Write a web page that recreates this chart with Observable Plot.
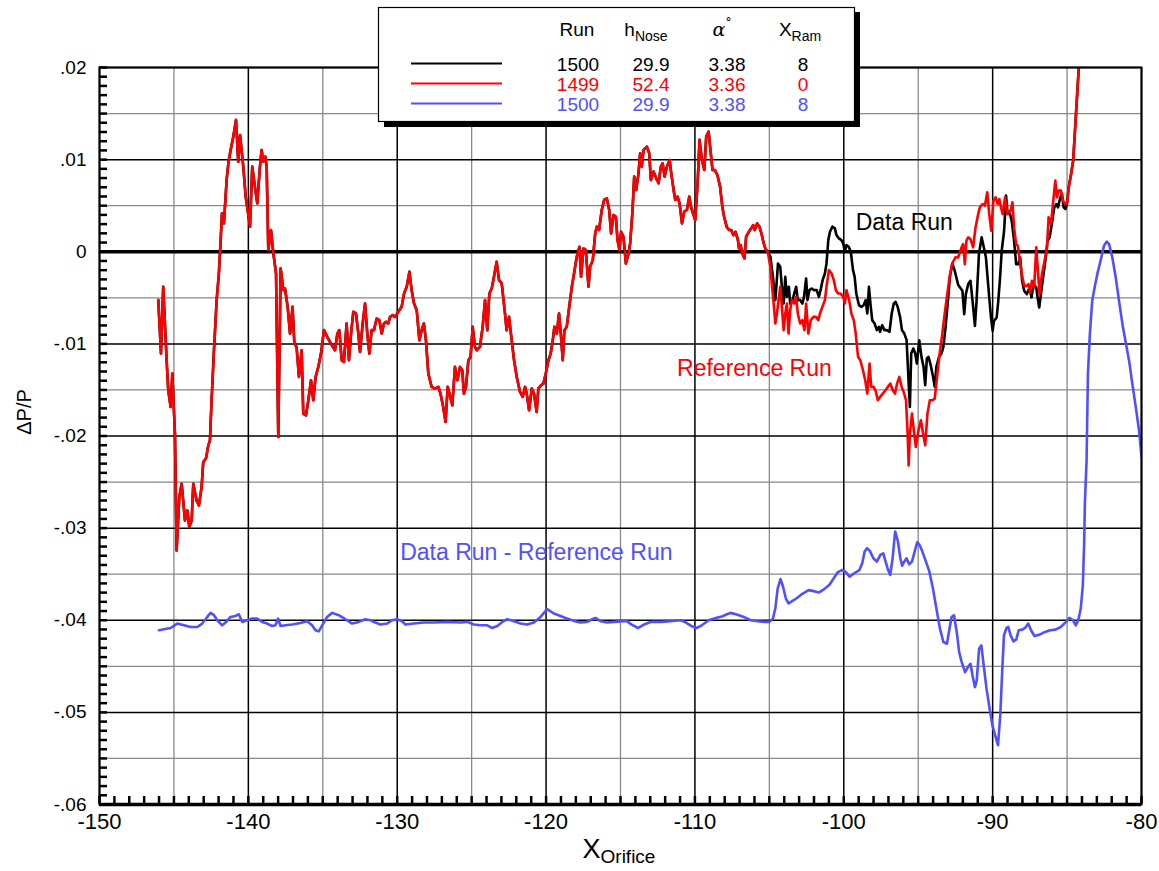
<!DOCTYPE html>
<html><head><meta charset="utf-8">
<script src="https://cdn.jsdelivr.net/npm/d3@7"></script>
<script src="https://cdn.jsdelivr.net/npm/@observablehq/plot@0.6"></script>
<style>
body{margin:0;background:#fff;}
#wrap{position:relative;width:1159px;height:871px;overflow:hidden;font-family:"Liberation Sans",Arial,sans-serif;}
#wrap svg{position:absolute;left:0;top:0;}
</style></head><body><div id="wrap"></div>
<script>
// ---- Data (x = X_Orifice, y = ΔP/P) ----
// Part where Data Run and Reference Run coincide (x < -105)
const commonStartX = [-146.05,-145.87,-145.72,-145.49,-145.38,-145.22,-145.11,-144.93,-144.82,-144.64,-144.48,-144.26,-144.10,-143.97,-143.81,-143.70,-143.48,-143.32,-143.14,-143.03,-142.85,-142.69,-142.58,-142.47,-142.31,-142.13,-141.98,-141.86,-141.77,-141.64,-141.46,-141.33,-141.19,-141.01,-140.83,-140.68,-140.56,-140.34,-140.18,-140.05,-139.89,-139.74,-139.56,-139.40,-139.22,-139.11,-139.00,-138.86,-138.77,-138.66,-138.48,-138.32,-138.14,-137.99,-137.83,-137.65,-137.54,-137.36,-137.20,-137.03,-136.91,-136.76,-136.60,-136.42,-136.31,-136.13,-135.97,-135.79,-135.64,-135.48,-135.30,-135.12,-134.92,-134.70,-134.40,-134.18,-134.02,-133.89,-133.73,-133.58,-133.40,-133.24,-133.10,-132.95,-132.77,-132.61,-132.50,-132.32,-132.16,-132.01,-131.87,-131.72,-131.56,-131.38,-131.20,-131.04,-130.89,-130.75,-130.60,-130.48,-130.30,-130.15,-129.99,-129.86,-129.70,-129.54,-129.36,-129.18,-129.03,-128.87,-128.69,-128.51,
-128.36,-128.21,-128.07,-127.91,-127.69,-127.47,-127.24,-127.09,-126.91,-126.75,-126.61,-126.46,-126.30,-126.12,-125.96,-125.78,-125.63,-125.52,-125.38,-125.22,-125.07,-124.93,-124.78,-124.66,-124.44,-124.26,-124.10,-123.95,-123.81,-123.65,-123.50,-123.32,-123.16,-122.98,-122.76,-122.65,-122.49,-122.31,-122.15,-121.97,-121.75,-121.57,-121.41,-121.30,-121.14,-120.96,-120.81,-120.63,-120.52,-120.34,-120.18,-120.02,-119.84,-119.69,-119.55,-119.44,-119.28,-119.13,-119.01,-118.88,-118.77,-118.61,-118.50,-118.27,-118.12,-117.94,-117.76,-117.65,-117.49,-117.33,-117.15,-117.04,-116.86,-116.70,-116.59,-116.44,-116.26,-116.10,-115.92,-115.76,-115.63,-115.47,-115.31,-115.20,-115.07,-114.96,-114.80,-114.64,-114.46,-114.35,-114.19,-114.08,-113.95,-113.79,-113.68,-113.57,-113.45,-113.23,-113.07,-112.96,-112.78,-112.60,-112.44,-112.29,-112.17,-112.04,-111.88,-111.70,-111.59,-111.43,-111.32,-111.17,-111.03,-110.87,-110.72,-110.54,-110.38,-110.27,-110.13,-109.98,-109.82,-109.69,-109.53,-109.37,-109.24,-109.08,
-108.98,-108.82,-108.67,-108.49,-108.31,-108.16,-108.04,-107.87,-107.71,-107.56,-107.42,-107.27,-107.11,-107.04,-106.93,-106.82,-106.67,-106.56,-106.38,-106.22,-106.09,-105.98,-105.82,-105.67,-105.53,-105.38,-105.27,-105.11];
const commonStartY = [-0.00525,-0.01105,-0.0038,-0.01178,-0.01504,-0.01685,-0.01322,-0.01975,-0.03243,-0.02663,-0.02518,-0.02917,-0.02808,-0.02989,-0.02917,-0.02518,-0.027,-0.02754,-0.02554,-0.02283,-0.02246,-0.02101,-0.02047,-0.01612,-0.01069,-0.00525,-0.00236,0.00127,0.00417,0.00308,0.00779,0.00978,0.01105,0.0125,0.01431,0.00978,0.01268,0.00924,0.00598,0.00453,0.00272,0.00924,0.00707,0.00525,0.00924,0.01105,0.00978,0.01033,0.00924,0.00018,0.00236,-0.00018,-0.00236,-0.02011,-0.00181,-0.00417,-0.00399,-0.00598,-0.00888,-0.00598,-0.00996,-0.01033,-0.01359,-0.01069,-0.01757,-0.01775,-0.01612,-0.01395,-0.01612,-0.01359,-0.0125,-0.01105,-0.00851,-0.00924,-0.01014,-0.01069,-0.00888,-0.00851,-0.01178,-0.01196,-0.00779,-0.01178,-0.00888,-0.00652,-0.0067,-0.00888,-0.01087,-0.00779,-0.00562,-0.00888,-0.01105,-0.00851,-0.00851,-0.00725,-0.00743,-0.00888,-0.00779,-0.00761,-0.00779,-0.00707,-0.00688,-0.00707,-0.0067,-0.00634,-0.00598,-0.00453,-0.0038,-0.00217,-0.00417,-0.00562,-0.00634,-0.0096,
-0.00851,-0.00779,-0.0096,-0.01322,-0.01467,-0.01486,-0.01467,-0.0154,-0.01685,-0.01848,-0.01467,-0.01558,-0.01667,-0.0125,-0.01395,-0.0125,-0.01286,-0.0154,-0.01467,-0.01178,-0.01141,-0.00815,-0.01033,-0.01069,-0.01033,-0.00815,-0.00525,-0.00851,-0.00453,-0.00399,-0.00272,-0.00109,-0.00308,-0.00344,-0.0067,-0.00851,-0.00707,-0.0096,-0.01178,-0.01359,-0.01522,-0.01576,-0.01467,-0.0154,-0.01721,-0.01486,-0.0154,-0.01739,-0.01486,-0.01449,-0.01431,-0.01322,-0.01178,-0.01105,-0.0096,-0.00815,-0.00888,-0.0067,-0.00888,-0.01178,-0.00851,-0.00815,-0.0067,-0.0038,-0.00236,-0.00054,0.00054,-0.00272,0.00036,0.00018,-0.0038,-0.00163,-0.00091,0.00199,0.00272,0.00236,0.00453,0.00562,0.0058,0.00453,0.00199,0.00399,0.0038,0.00127,0.00018,0.00217,0.00163,-0.00127,-0.00018,0.00091,0.00453,0.00815,0.0067,0.00851,0.01069,0.00924,0.01105,0.01141,0.01069,0.00779,0.0087,0.00797,0.00743,0.00924,0.0096,0.00815,0.00924,0.00996,0.00851,0.0067,0.00562,0.00598,0.00525,0.00308,0.00435,0.00453,0.00598,0.00489,0.00417,0.00344,0.00743,0.01214,0.00996,0.00888,0.0125,0.01304,
0.01141,0.00888,0.00888,0.00833,0.00707,0.00489,0.0038,0.00272,0.00236,0.00236,0.00181,0.00217,0.00127,0.00036,0.00072,-0.00018,-0.00072,0.00163,0.00217,0.00254,0.0029,0.00236,0.00308,0.00272,0.00199,0.00091,0.00036,0.0];

// Part where the Data Run (black) differs
const dataMidX = [-104.93,-104.76,-104.60,-104.53,-104.42,-104.27,-104.16,-104.04,-103.93,-103.82,-103.69,-103.60,-103.44,-103.33,-103.20,-103.09,-102.93,-102.78,-102.67,-102.53,-102.44,-102.31,-102.16,-102.0,-101.82,-101.67,-101.56,-101.42,-101.27,-101.16,-101.04,-100.93,-100.76,-100.60,-100.49,-100.33,-100.16,-100.04,-99.93,-99.82,-99.67,-99.53,-99.38,-99.27,-99.16,-98.98,-98.82,-98.67,-98.53,-98.42,-98.31,-98.20,-98.09,-97.93,-97.78,-97.64,-97.56,-97.42,-97.27,-97.11,-96.93,-96.78,-96.64,-96.53,-96.38,-96.22,-96.09,-95.93,-95.78,-95.64,-95.56,-95.47,-95.33,-95.20,-95.09,-94.93,-94.78,-94.64,-94.53,-94.42,-94.31,-94.16,-94.0,-93.89,-93.78,-93.60,-93.44,-93.31,-93.16,-93.0,-92.87,-92.71,-92.56,-92.42,-92.31,-92.03,-91.91,-91.80,-91.64,-91.49,-91.35,-91.19,-91.08,-90.92,-90.74,-90.59,-90.45,-90.36,-90.23,-90.11,-90.0,-89.91,-89.73,-89.62,-89.50,-89.39,-89.23,-89.10,-88.99,-88.83,-88.72,-88.56,-88.42,-88.27,-88.15,-88.02,-87.88,-87.70,-87.52,-87.39,-87.25,-87.07,-86.98,-86.87,-86.73,-86.58,-86.46,-86.31,-86.17,-86.01,-85.86,-85.72,-85.61,-85.45,-85.34,-85.23,-85.11];
const dataMidY = [-0.00054,-0.00272,-0.00525,-0.0038,-0.00127,-0.00163,-0.0038,-0.00562,-0.00272,-0.00489,-0.0038,-0.00562,-0.00525,-0.00453,-0.0038,-0.00525,-0.00525,-0.00562,-0.00489,-0.0029,-0.00525,-0.00417,-0.00399,-0.00417,-0.00417,-0.00489,-0.00417,-0.00308,-0.00236,-0.00127,0.00127,0.00217,0.00272,0.00254,0.00181,0.00145,0.00127,0.00091,0.0,0.00072,0.00054,0.0,-0.00199,-0.00272,-0.00453,-0.0058,-0.00598,-0.0058,-0.00525,-0.0067,-0.0038,-0.0058,-0.00743,-0.00779,-0.00851,-0.00815,-0.0087,-0.00797,-0.00851,-0.00851,-0.0087,-0.0067,-0.00562,-0.00543,-0.00598,-0.00707,-0.00851,-0.00888,-0.0096,-0.01431,-0.01685,-0.01105,-0.01051,-0.01105,-0.01214,-0.0096,-0.01141,-0.0125,-0.01449,-0.01159,-0.01141,-0.01232,-0.01359,-0.01467,-0.0125,-0.01141,-0.01105,-0.01033,-0.00815,-0.00525,-0.00272,-0.00127,-0.00199,-0.0029,-0.00362,-0.00424,-0.00678,-0.0046,-0.00351,-0.00315,-0.00533,-0.00805,-0.00533,-0.00025,0.00156,0.00047,-0.00062,-0.00243,-0.00496,-0.00714,-0.00859,-0.0075,-0.00714,-0.00533,-0.00279,0.00011,0.00228,0.00609,0.00409,0.00409,0.00337,0.0012,-0.00134,-0.00134,-0.00062,-0.00315,-0.00424,-0.0046,-0.00388,-0.00496,-0.00351,-0.00388,-0.00496,-0.00605,-0.00424,-0.00243,-0.00098,0.0012,0.00156,0.00319,0.00482,0.00518,0.00482,0.00591,0.00627,0.00482,0.00464];

// Part where the Reference Run (red) differs
const refMidX = [-104.93,-104.82,-104.71,-104.60,-104.49,-104.38,-104.27,-104.16,-104.04,-103.93,-103.82,-103.71,-103.60,-103.49,-103.33,-103.20,-103.09,-102.93,-102.78,-102.64,-102.53,-102.38,-102.22,-102.04,-101.87,-101.71,-101.60,-101.44,-101.27,-101.16,-101.0,-100.82,-100.67,-100.53,-100.38,-100.22,-100.04,-99.93,-99.82,-99.64,-99.49,-99.33,-99.20,-99.04,-98.89,-98.71,-98.56,-98.42,-98.27,-98.16,-98.0,-97.87,-97.71,-97.56,-97.38,-97.20,-97.04,-96.87,-96.71,-96.56,-96.42,-96.27,-96.11,-95.98,-95.82,-95.71,-95.64,-95.56,-95.42,-95.27,-95.16,-94.98,-94.82,-94.67,-94.53,-94.38,-94.22,-94.04,-93.89,-93.71,-93.56,-93.38,-93.22,-93.04,-92.89,-92.71,-92.50,-92.32,-92.09,-91.98,-91.87,-91.76,-91.64,-91.49,-91.31,-91.15,-90.97,-90.86,-90.68,-90.52,-90.36,-90.23,-90.09,-89.95,-89.80,-89.66,-89.55,-89.44,-89.32,-89.17,-89.01,-88.87,-88.76,-88.67,-88.56,-88.42,-88.31,-88.20,-88.04,-87.88,-87.70,-87.59,-87.48,-87.36,-87.21,-87.07,-86.96,-86.85,-86.69,-86.51,-86.35,-86.24,-86.08,-85.95,-85.79,-85.68,-85.56,-85.41,-85.27,-85.11];
const refMidY = [-0.00163,-0.0038,-0.00562,-0.00779,-0.0067,-0.00525,-0.0038,-0.00598,-0.00851,-0.0067,-0.00562,-0.00888,-0.00634,-0.00525,-0.00562,-0.00489,-0.0067,-0.00779,-0.00743,-0.00851,-0.00562,-0.00888,-0.00743,-0.00707,-0.00707,-0.00743,-0.0067,-0.00598,-0.00525,-0.0038,-0.00199,-0.00236,-0.00308,-0.00417,-0.00453,-0.00453,-0.00489,-0.00562,-0.00417,-0.00525,-0.0067,-0.00743,-0.00888,-0.01141,-0.01178,-0.01286,-0.01395,-0.0154,-0.01214,-0.01467,-0.01467,-0.01504,-0.01612,-0.01576,-0.0154,-0.01504,-0.01467,-0.01431,-0.01504,-0.0154,-0.01431,-0.01359,-0.01467,-0.01522,-0.01612,-0.01975,-0.02319,-0.01975,-0.01757,-0.01975,-0.0212,-0.01938,-0.0183,-0.01975,-0.02101,-0.01757,-0.01612,-0.01612,-0.01594,-0.01322,-0.01105,-0.00888,-0.0067,-0.00453,-0.00272,-0.00127,-0.0006,-0.00062,0.00047,0.00083,-0.00134,0.0012,0.00156,0.00138,0.00047,0.00264,0.00409,0.00482,0.00518,0.005,0.00645,0.00409,0.00228,0.00554,0.00591,0.00518,0.00572,0.00482,0.00409,0.00591,0.00409,0.00428,0.00464,0.00536,0.00264,0.00083,0.00065,-0.00062,-0.00243,-0.0037,-0.0037,-0.00351,-0.00442,-0.00315,-0.00388,0.00047,-0.00207,-0.0046,-0.00243,-0.00098,0.00047,0.00373,0.00301,0.00518,0.00772,0.00591,0.00663,0.00663,0.00554,0.00518];

// Common end (x > -85), runs off the top of the chart
const commonEndX = [-85.0,-84.89,-84.73,-84.59,-84.44,-84.32,-84.21,-83.9];
const commonEndY = [0.00527,0.00699,0.00844,0.00989,0.01388,0.01714,0.02004,0.028];

// Data Run - Reference Run (plotted with -0.04 offset)
const diffX = [-146.01,-145.67,-145.22,-144.78,-144.33,-143.88,-143.43,-143.10,-142.76,-142.54,-142.31,-142.09,-141.76,-141.53,-141.20,-140.86,-140.64,-140.41,-140.08,-139.74,-139.41,-139.07,-138.74,-138.40,-138.18,-138.00,-137.84,-137.51,-137.06,-136.50,-136.05,-135.72,-135.49,-135.27,-135.04,-134.71,-134.37,-133.93,-133.48,-133.03,-132.58,-132.14,-131.80,-131.47,-131.13,-130.68,-130.35,-130.01,-129.67,-129.45,-128.89,-128.21,-127.54,-126.64,-125.75,-125.30,-124.85,-124.40,-123.95,-123.62,-123.28,-122.94,-122.61,-122.16,-121.71,-121.27,-120.82,-120.37,-119.93,-119.48,-119.03,-118.58,-118.13,-117.69,-117.24,-116.90,-116.68,-116.34,-115.89,-115.42,-114.60,-114.25,-113.82,-113.42,-112.95,-112.25,-111.66,-110.95,-110.60,-110.25,-109.89,-109.54,-109.07,-108.60,-108.13,-107.89,-107.61,-107.19,-106.72,-106.25,-105.78,-105.31,-105.0,-104.76,-104.60,-104.44,-104.25,-104.08,-103.89,-103.71,-103.47,-103.19,-102.84,-102.36,-102.01,-101.66,-101.31,-100.95,-100.65,-100.41,-100.13,-99.89,-99.61,-99.31,-98.95,-98.76,-98.60,-98.44,-98.25,-98.01,-97.78,-97.54,-97.35,-97.19,-97.02,-96.88,-96.72,-96.55,-96.36,-96.20,-96.08,-95.94,-95.78,-95.61,-95.42,-95.24,-95.07,-94.91,-94.72,-94.48,-94.25,-94.01,-93.78,-93.54,-93.31,-93.07,-92.88,-92.76,-92.60,-92.41,-92.25,-92.08,-91.85,-91.66,-91.49,-91.35,-91.19,-91.07,-90.91,-90.76,-90.60,-90.41,-90.20,-90.01,-89.82,-89.64,-89.49,-89.35,-89.24,-89.07,-88.95,-88.79,-88.60,-88.41,-88.25,-88.01,-87.82,-87.61,-87.42,-87.19,-86.84,-86.48,-86.13,-85.78,-85.42,-85.07,-84.84,-84.60,-84.41,-84.25,-84.08,-83.94,-83.85,-83.80,-83.69,-83.60,-83.47,-83.31,-83.15,-82.97,-82.75,-82.52,-82.34,-82.18,-81.96,-81.73,-81.51,-81.28,-81.06,-80.83,-80.61,-80.38,-80.16,-80.0];
const diffY = [-0.04109,-0.04098,-0.04084,-0.04036,-0.04055,-0.04073,-0.04073,-0.04036,-0.03964,-0.0392,-0.03945,-0.04,-0.04055,-0.04025,-0.03964,-0.03953,-0.03935,-0.04018,-0.04,-0.03982,-0.03982,-0.04018,-0.04036,-0.04062,-0.04055,-0.03982,-0.04062,-0.04055,-0.04047,-0.04029,-0.04011,-0.04055,-0.04109,-0.0412,-0.04055,-0.03964,-0.0392,-0.03945,-0.03989,-0.04036,-0.04018,-0.03989,-0.04,-0.04025,-0.04047,-0.04036,-0.04,-0.03989,-0.04011,-0.04047,-0.04036,-0.04025,-0.04025,-0.04018,-0.04025,-0.04018,-0.04047,-0.04055,-0.04055,-0.04084,-0.04062,-0.04018,-0.03989,-0.04011,-0.04036,-0.04047,-0.04025,-0.03964,-0.0388,-0.03927,-0.03953,-0.03982,-0.04007,-0.04025,-0.04018,-0.03989,-0.03975,-0.04011,-0.04025,-0.04018,-0.04007,-0.04047,-0.04084,-0.04047,-0.04018,-0.04018,-0.04011,-0.04,-0.04025,-0.04062,-0.04084,-0.04055,-0.04,-0.03975,-0.03956,-0.03938,-0.0392,-0.03938,-0.03964,-0.04,-0.04011,-0.04018,-0.04018,-0.03982,-0.03873,-0.03655,-0.03553,-0.03636,-0.03764,-0.03818,-0.03793,-0.03764,-0.0372,-0.03673,-0.03684,-0.03698,-0.03662,-0.03611,-0.03538,-0.0348,-0.03455,-0.03473,-0.03527,-0.03491,-0.03455,-0.03382,-0.03255,-0.03218,-0.03247,-0.03327,-0.03364,-0.03291,-0.03273,-0.03364,-0.03455,-0.03509,-0.03327,-0.03036,-0.03145,-0.03327,-0.03407,-0.03364,-0.03327,-0.03393,-0.03364,-0.03255,-0.03153,-0.03182,-0.03255,-0.03364,-0.03473,-0.03655,-0.03873,-0.04091,-0.04236,-0.04255,-0.04073,-0.03964,-0.03945,-0.04127,-0.04345,-0.04455,-0.04564,-0.04509,-0.04473,-0.046,-0.04727,-0.04655,-0.04309,-0.04273,-0.04491,-0.04745,-0.04964,-0.05145,-0.05255,-0.05356,-0.05036,-0.04527,-0.04164,-0.04084,-0.04073,-0.04164,-0.04229,-0.04207,-0.04109,-0.04102,-0.04084,-0.04036,-0.04109,-0.04171,-0.04156,-0.04127,-0.04109,-0.04102,-0.04073,-0.04018,-0.03975,-0.04,-0.04055,-0.04,-0.03873,-0.03618,-0.03145,-0.0271,-0.0227,-0.0133,-0.00895,-0.00533,-0.00388,-0.00243,-0.00098,0.00065,0.00109,0.00083,-0.00062,-0.00279,-0.00533,-0.00786,-0.00986,-0.01185,-0.01439,-0.01692,-0.01946,-0.02225];

// Axes
const xTicks = [-150,-140,-130,-120,-110,-100,-90,-80];
const xHalfTicks = [-145,-135,-125,-115,-105,-95,-85];
const yTicks = [0.02,0.01,0,-0.01,-0.02,-0.03,-0.04,-0.05,-0.06];
const yHalfTicks = [0.015,0.005,-0.005,-0.015,-0.025,-0.035,-0.045,-0.055];
const xMinorTicks = d3.range(-150,-79,1);
const yMinorTicks = d3.range(-60,21,1).map(d => d/1000);

// Annotations
const annoText = ["Data Run","Reference Run","Data Run - Reference Run"];
const annoX = [-99.2,-111.2,-129.8];
const annoY = [0.0032,-0.0127,-0.0327];
const annoColor = ["#000000","#ff0000","#5050ff"];

// Legend table
const legendHeaders = ["Run","h","α","X"];
const legendRun = ["1500","1499","1500"];
const legendHNose = ["29.9","52.4","29.9"];
const legendAlpha = ["3.38","3.36","3.38"];
const legendXRam = ["8","0","8"];
const seriesColors = ["#000000","#ff0000","#5050ff"];

// ---- Build tables ----
const toRows = (xs, ys) => xs.map((x, i) => ({x, y: ys[i]}));
const dataRun = [...toRows(commonStartX, commonStartY), ...toRows(dataMidX, dataMidY), ...toRows(commonEndX, commonEndY)];
const refRun = [...toRows(commonStartX, commonStartY), ...toRows(refMidX, refMidY), ...toRows(commonEndX, commonEndY)];
const diffRun = toRows(diffX, diffY);
const annos = annoText.map((t, i) => ({t, x: annoX[i], y: annoY[i], c: annoColor[i]}));

const fmtY = d => d === 0 ? "0" : d3.format(".2f")(d).replace("\u2212", "-").replace("0.", ".");

const chart = Plot.plot({
  width: 1159, height: 871,
  marginLeft: 99, marginRight: 18, marginTop: 67, marginBottom: 67,
  style: {background: "white", fontFamily: "'Liberation Sans',Arial,sans-serif", color: "black"},
  x: {domain: [-150, -80]},
  y: {domain: [-0.06, 0.02]},
  marks: [
    Plot.gridX(xHalfTicks, {stroke: "#888", strokeOpacity: 1, strokeWidth: 1.3}),
    Plot.gridY(yHalfTicks, {stroke: "#888", strokeOpacity: 1, strokeWidth: 1.3}),
    Plot.gridX(xTicks, {stroke: "#000", strokeOpacity: 1, strokeWidth: 1.5}),
    Plot.gridY(yTicks, {stroke: "#000", strokeOpacity: 1, strokeWidth: 1.5}),
    Plot.ruleY([0], {stroke: "#000", strokeWidth: 3.5}),
    Plot.line(diffRun, {x: "x", y: "y", stroke: "#5050ff", strokeWidth: 2.6, clip: true}),
    Plot.line(dataRun, {x: "x", y: "y", stroke: "#000000", strokeWidth: 2.6, clip: true}),
    Plot.line(refRun, {x: "x", y: "y", stroke: "#ff0000", strokeWidth: 2.6, clip: true}),
    Plot.text(annos, {x: "x", y: "y", text: "t", fill: "c", textAnchor: "start", fontSize: 23}),
    Plot.axisX(xMinorTicks, {tickSize: -8, tickFormat: () => "", strokeWidth: 2.5, label: null}),
    Plot.axisX(xTicks, {tickSize: 0, tickPadding: 9, tickFormat: d => String(d), fontSize: 22, label: null}),
    Plot.axisY(yMinorTicks, {tickSize: -8, tickFormat: () => "", strokeWidth: 2.5, label: null}),
    Plot.axisY(yTicks, {tickSize: 0, tickPadding: 13, tickFormat: fmtY, fontSize: 19, label: null}),
    Plot.frame({stroke: "#000", strokeWidth: 2}),
    Plot.ruleY([-0.06], {stroke: "#000", strokeWidth: 3.5})
  ]
});
const wrap = document.getElementById("wrap");
wrap.appendChild(chart);

// ---- Overlay: legend box and axis titles ----
const ov = d3.select(wrap).append("svg").attr("width", 1159).attr("height", 871)
  .style("pointer-events", "none").attr("font-family", "'Liberation Sans',Arial,sans-serif");
// legend shadow + box
ov.append("rect").attr("x", 384).attr("y", 12).attr("width", 476).attr("height", 115).attr("fill", "#000");
ov.append("rect").attr("x", 378.5).attr("y", 7.5).attr("width", 476).attr("height", 114).attr("fill", "#fff").attr("stroke", "#000").attr("stroke-width", 1.2);
const fs = 19;
// headers
ov.append("text").attr("x", 577).attr("y", 36).attr("text-anchor", "middle").attr("font-size", fs).text(legendHeaders[0]);
const h = ov.append("text").attr("x", 646).attr("y", 36).attr("text-anchor", "middle").attr("font-size", fs);
h.append("tspan").text(legendHeaders[1]);
h.append("tspan").attr("font-size", 14).attr("dy", 5).text("Nose");
const a = ov.append("text").attr("x", 722).attr("y", 36).attr("text-anchor", "middle").attr("font-size", fs).attr("font-family", "'DejaVu Serif',serif");
a.append("tspan").attr("font-style", "italic").text(legendHeaders[2]);
a.append("tspan").attr("font-size", 12).attr("dy", -9).text("°");
const xr = ov.append("text").attr("x", 800).attr("y", 36).attr("text-anchor", "middle").attr("font-size", fs);
xr.append("tspan").text(legendHeaders[3]);
xr.append("tspan").attr("font-size", 14).attr("dy", 5).text("Ram");
// rows
const rowY = [71, 91, 111];
legendRun.forEach((r, i) => {
  const c = seriesColors[i];
  ov.append("line").attr("x1", 411).attr("x2", 502).attr("y1", rowY[i] - 7.5).attr("y2", rowY[i] - 7.5).attr("stroke", c).attr("stroke-width", 2);
  ov.append("text").attr("x", 578).attr("y", rowY[i]).attr("text-anchor", "middle").attr("font-size", fs).attr("fill", c).text(r);
  ov.append("text").attr("x", 651).attr("y", rowY[i]).attr("text-anchor", "middle").attr("font-size", fs).attr("fill", c).text(legendHNose[i]);
  ov.append("text").attr("x", 727).attr("y", rowY[i]).attr("text-anchor", "middle").attr("font-size", fs).attr("fill", c).text(legendAlpha[i]);
  ov.append("text").attr("x", 803).attr("y", rowY[i]).attr("text-anchor", "middle").attr("font-size", fs).attr("fill", c).text(legendXRam[i]);
});
// x axis title
const xt = ov.append("text").attr("x", 619).attr("y", 858).attr("text-anchor", "middle").attr("font-size", 27);
xt.append("tspan").text("X");
xt.append("tspan").attr("font-size", 19).attr("dy", 5).text("Orifice");
// y axis title
ov.append("text").attr("transform", "translate(31,412) rotate(-90)").attr("text-anchor", "middle").attr("font-size", 20).text("ΔP/P");
</script></body></html>
